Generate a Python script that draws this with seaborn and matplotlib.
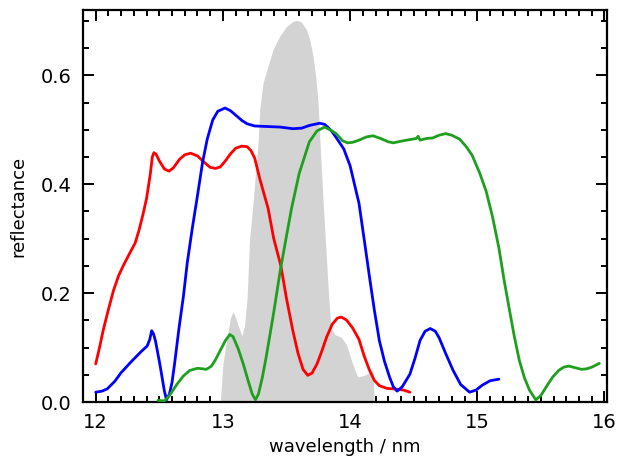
import matplotlib
matplotlib.use("Agg")
import matplotlib.pyplot as plt
from matplotlib.ticker import MultipleLocator, FixedLocator
import seaborn as sns
import pandas as pd

# Reflectance spectra of three multilayer mirrors (nm, reflectance)
red_wl = [12.00, 12.03, 12.06, 12.10, 12.14, 12.18, 12.22, 12.26, 12.31, 12.34, 12.37,
          12.40, 12.43, 12.445, 12.458, 12.475, 12.50, 12.54, 12.576, 12.61, 12.66, 12.70,
          12.746, 12.80, 12.85, 12.90, 12.942, 12.98, 13.02, 13.06, 13.10, 13.147, 13.19,
          13.22, 13.25, 13.29, 13.32, 13.355, 13.40, 13.456, 13.50, 13.55, 13.59, 13.63,
          13.667, 13.70, 13.74, 13.78, 13.815, 13.86, 13.90, 13.93, 13.97, 14.02, 14.07,
          14.11, 14.15, 14.19, 14.23, 14.29, 14.35, 14.42, 14.47]
red_refl = [0.070, 0.100, 0.133, 0.170, 0.205, 0.232, 0.252, 0.270, 0.292, 0.315, 0.343,
            0.374, 0.420, 0.450, 0.458, 0.455, 0.443, 0.428, 0.424, 0.430, 0.446, 0.454,
            0.457, 0.452, 0.441, 0.431, 0.429, 0.432, 0.443, 0.456, 0.466, 0.470, 0.469,
            0.462, 0.448, 0.410, 0.385, 0.356, 0.300, 0.250, 0.190, 0.131, 0.090, 0.060,
            0.049, 0.053, 0.070, 0.095, 0.119, 0.143, 0.154, 0.156, 0.151, 0.136, 0.115,
            0.085, 0.060, 0.040, 0.030, 0.025, 0.024, 0.022, 0.018]

blue_wl = [12.00, 12.05, 12.09, 12.15, 12.20, 12.275, 12.35, 12.405, 12.425, 12.44, 12.455,
           12.47, 12.50, 12.52, 12.54, 12.557, 12.58, 12.60, 12.62, 12.654, 12.69, 12.72,
           12.76, 12.80, 12.84, 12.877, 12.92, 12.96, 13.017, 13.06, 13.10, 13.15, 13.19,
           13.25, 13.35, 13.45, 13.55, 13.62, 13.68, 13.76, 13.80, 13.85, 13.89, 13.95,
           14.00, 14.07, 14.11, 14.15, 14.19, 14.23, 14.27, 14.31, 14.34, 14.37, 14.41,
           14.47, 14.51, 14.55, 14.59, 14.63, 14.67, 14.70, 14.75, 14.81, 14.87, 14.94,
           14.99, 15.04, 15.10, 15.17]
blue_refl = [0.018, 0.020, 0.024, 0.038, 0.054, 0.073, 0.091, 0.103, 0.115, 0.131, 0.125,
             0.112, 0.075, 0.048, 0.020, 0.004, 0.015, 0.036, 0.070, 0.134, 0.195, 0.256,
             0.320, 0.379, 0.440, 0.483, 0.518, 0.534, 0.540, 0.535, 0.527, 0.517, 0.511,
             0.507, 0.506, 0.505, 0.502, 0.503, 0.508, 0.512, 0.510, 0.499, 0.486, 0.465,
             0.434, 0.365, 0.300, 0.234, 0.170, 0.113, 0.075, 0.046, 0.028, 0.020, 0.028,
             0.051, 0.080, 0.113, 0.130, 0.135, 0.130, 0.118, 0.090, 0.058, 0.032, 0.018,
             0.022, 0.031, 0.039, 0.042]

green_wl = [12.49, 12.54, 12.58, 12.64, 12.69, 12.74, 12.80, 12.84, 12.87, 12.91, 12.94,
            12.98, 13.02, 13.055, 13.08, 13.12, 13.16, 13.20, 13.23, 13.256, 13.28, 13.31,
            13.34, 13.40, 13.45, 13.50, 13.54, 13.60, 13.68, 13.74, 13.80, 13.85, 13.89,
            13.94, 13.98, 14.02, 14.07, 14.13, 14.18, 14.24, 14.30, 14.34, 14.40, 14.47,
            14.52, 14.535, 14.55, 14.60, 14.65, 14.70, 14.75, 14.80, 14.86, 14.91, 14.96,
            15.02, 15.07, 15.12, 15.17, 15.21, 15.25, 15.29, 15.33, 15.37, 15.41, 15.46,
            15.50, 15.54, 15.59, 15.64, 15.68, 15.72, 15.77, 15.82, 15.86, 15.90, 15.96]
green_refl = [0.003, 0.002, 0.012, 0.033, 0.048, 0.058, 0.062, 0.061, 0.060, 0.066, 0.077,
              0.095, 0.113, 0.124, 0.120, 0.098, 0.070, 0.038, 0.015, 0.004, 0.015, 0.045,
              0.082, 0.165, 0.240, 0.305, 0.356, 0.420, 0.478, 0.498, 0.505, 0.499, 0.493,
              0.480, 0.476, 0.477, 0.481, 0.487, 0.489, 0.484, 0.478, 0.476, 0.479, 0.482,
              0.484, 0.488, 0.481, 0.484, 0.485, 0.490, 0.493, 0.490, 0.483, 0.470, 0.453,
              0.420, 0.387, 0.340, 0.283, 0.225, 0.173, 0.122, 0.077, 0.045, 0.022, 0.004,
              0.012, 0.027, 0.045, 0.058, 0.064, 0.066, 0.063, 0.060, 0.061, 0.064, 0.071]

# Source emission band (scaled), drawn as a shaded profile
band_wl = [12.98, 13.00, 13.03, 13.06, 13.08, 13.10, 13.12, 13.15, 13.17, 13.19, 13.21,
           13.235, 13.26, 13.277, 13.29, 13.316, 13.355, 13.395, 13.447, 13.50, 13.551,
           13.578, 13.617, 13.656, 13.682, 13.708, 13.729, 13.748, 13.761, 13.774, 13.79,
           13.81, 13.83, 13.85, 13.88, 13.93, 13.97, 14.02, 14.06, 14.11, 14.18, 14.19]
band_level = [0.0, 0.070, 0.115, 0.155, 0.166, 0.155, 0.140, 0.122, 0.140, 0.190, 0.300,
              0.360, 0.430, 0.478, 0.538, 0.587, 0.617, 0.648, 0.672, 0.690, 0.699,
              0.701, 0.698, 0.684, 0.666, 0.636, 0.599, 0.551, 0.490, 0.429, 0.360,
              0.280, 0.200, 0.135, 0.124, 0.119, 0.106, 0.070, 0.046, 0.049, 0.058, 0.0]

x_ticks = [12, 13, 14, 15, 16]
y_ticks = [0.0, 0.2, 0.4, 0.6]
y_tick_labels = ["0.0", "0.2", "0.4", "0.6"]

sns.set_style("white", {"xtick.direction": "in", "ytick.direction": "in",
                        "axes.edgecolor": "black", "text.color": "black",
                        "axes.labelcolor": "black", "xtick.color": "black",
                        "ytick.color": "black"})
plt.rcParams["font.family"] = ["DejaVu Sans"]

fig = plt.figure(figsize=(6.17, 4.68), dpi=100)
ax = fig.add_axes([0.1345, 0.141, 0.8493, 0.8376])

ax.fill_between(band_wl, 0, band_level, color="#d3d3d3", linewidth=0, zorder=1)

curves = [
    (red_wl, red_refl, "#ff0000"),
    (blue_wl, blue_refl, "#0000ff"),
    (green_wl, green_refl, "#1ea01e"),
]
for wl, refl, col in curves:
    df = pd.DataFrame({"wavelength": wl, "reflectance": refl})
    sns.lineplot(data=df, x="wavelength", y="reflectance", color=col, lw=2.0,
                 estimator=None, sort=False, ax=ax, zorder=3)

ax.set_xlim(11.9, 16.02)
ax.set_ylim(0.0, 0.72)

ax.xaxis.set_major_locator(FixedLocator(x_ticks))
ax.xaxis.set_minor_locator(MultipleLocator(0.1))
ax.yaxis.set_major_locator(FixedLocator(y_ticks))
ax.set_yticklabels(y_tick_labels)
ax.yaxis.set_minor_locator(MultipleLocator(0.05))

ax.tick_params(which="both", direction="in", top=True, right=True, bottom=True,
               left=True, width=1.4, labelsize=14, colors="black")
ax.tick_params(which="major", length=8, pad=8)
ax.tick_params(which="minor", length=4)

for sp in ax.spines.values():
    sp.set_linewidth(1.6)
    sp.set_color("black")

ax.set_xlabel("wavelength / nm", fontsize=13, labelpad=4, color="black")
ax.set_ylabel("reflectance", fontsize=13, labelpad=10, color="black")

fig.savefig("out.png", dpi=100)
